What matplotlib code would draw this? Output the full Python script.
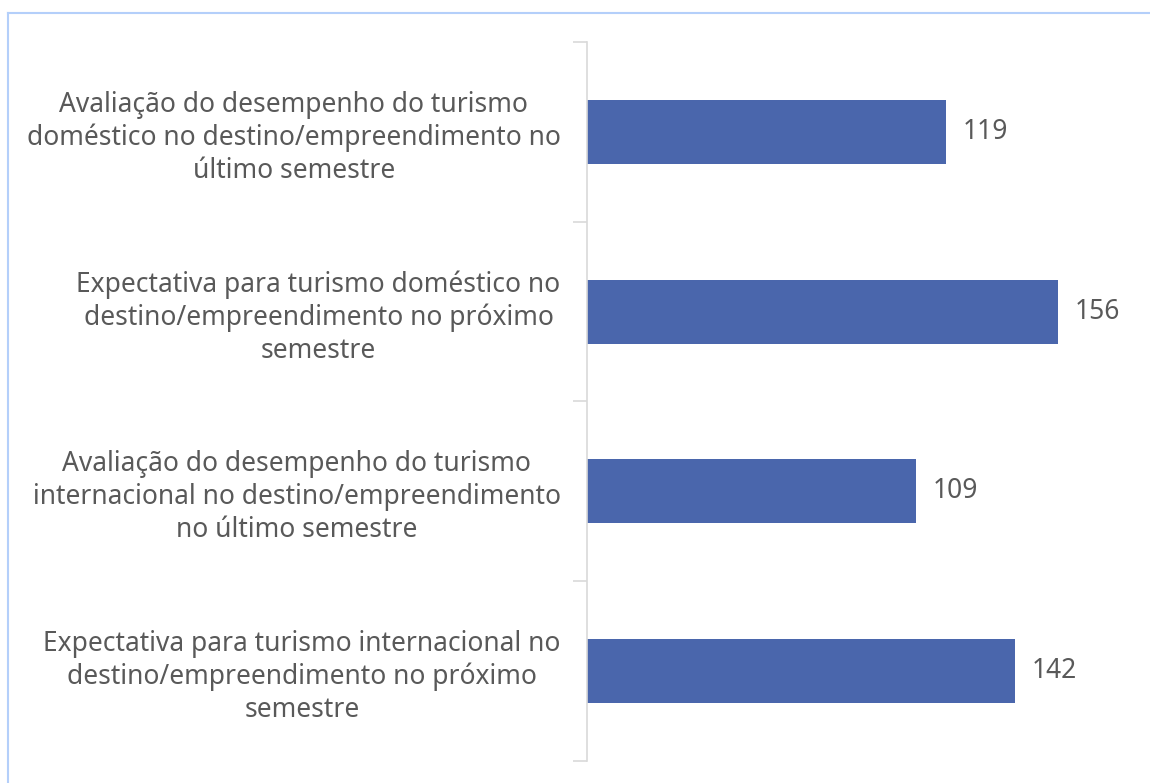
import matplotlib.pyplot as plt
from matplotlib.lines import Line2D

categories = [
    'Avaliação do desempenho do turismo\ndoméstico no destino/empreendimento no\núltimo semestre',
    'Expectativa para turismo doméstico no\ndestino/empreendimento no próximo\nsemestre',
    'Avaliação do desempenho do turismo\ninternacional no destino/empreendimento\nno último semestre',
    'Expectativa para turismo internacional no\ndestino/empreendimento no próximo\nsemestre',
]
values = [119, 156, 109, 142]

plt.rcParams['font.family'] = ['Noto Sans', 'DejaVu Sans']
txt = '#595959'
fs = 19

fig = plt.figure(figsize=(11.5, 7.83), dpi=100)
ax = fig.add_axes([587 / 1150, 1 - 761 / 783, (1130 - 587) / 1150, (761 - 42) / 783])

pos = list(range(len(values)))
bars = ax.barh(pos, values, height=0.355, color='#4A66AC')
ax.set_ylim(len(values) - 0.5, -0.5)
ax.set_xlim(0, 180)

# ticks at category boundaries, labels at centres
ax.set_yticks([p - 0.5 for p in pos] + [len(values) - 0.5])
ax.set_yticklabels([])
ax.set_yticks(pos, minor=True)
ax.set_yticklabels(categories, minor=True, multialignment='center',
                   fontsize=fs, color=txt, linespacing=1.23)
ax.tick_params(axis='y', which='major', length=10, width=1.2, color='#D9D9D9')
ax.tick_params(axis='y', which='minor', length=0, pad=19)
ax.set_xticks([])

for s in ['top', 'right', 'bottom']:
    ax.spines[s].set_visible(False)
ax.spines['left'].set_color('#D9D9D9')
ax.spines['left'].set_linewidth(1.2)

for b, v in zip(bars, values):
    ax.text(v + 5.5, b.get_y() + b.get_height() / 2, str(v),
            va='center', ha='left', fontsize=fs, color=txt)

# light blue frame (left and top edges)
bc = '#B4CFFA'
fig.add_artist(Line2D([7.5 / 1150, 7.5 / 1150], [0, 1 - 12.5 / 783],
                      transform=fig.transFigure, color=bc, lw=1.5))
fig.add_artist(Line2D([7.5 / 1150, 1], [1 - 12.5 / 783, 1 - 12.5 / 783],
                      transform=fig.transFigure, color=bc, lw=1.5))

fig.savefig('out.png', dpi=100)
